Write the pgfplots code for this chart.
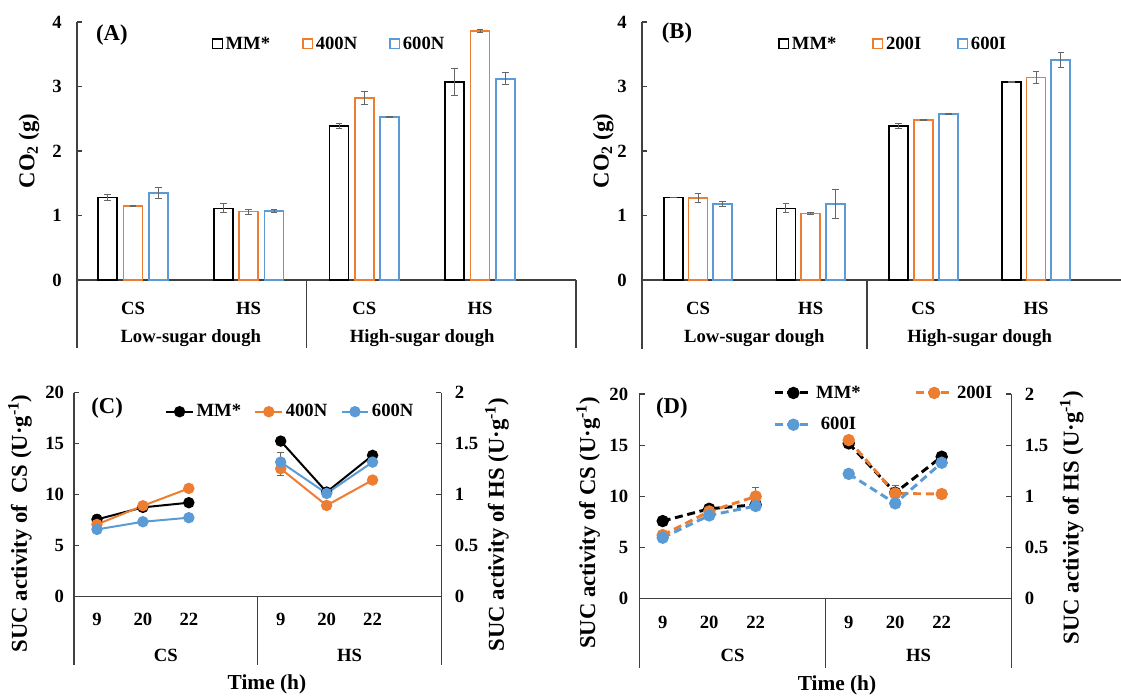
\documentclass[border=0pt]{standalone}
\usepackage{fontspec}
\setmainfont{Liberation Serif}
\usepackage{pgfplots}
\pgfplotsset{compat=1.18}

\definecolor{cOr}{HTML}{ED7D31}
\definecolor{cBl}{HTML}{5B9BD5}
\definecolor{cAx}{HTML}{404040}
\definecolor{cEr}{HTML}{666666}

\newcommand{\fs}[1]{\fontsize{#1}{#1}\selectfont\bfseries}

\pgfplotsset{
  base/.style={
    scale only axis, anchor=south west, clip=false,
    axis line style={cAx, line width=0.9pt},
    tick style={cAx, line width=0.9pt},
    tick align=inside, major tick length=4pt,
    /pgf/number format/assume math mode=true,
    tick label style={font=\fs{14}},
    label style={font=\fs{17}},
    legend style={font=\fs{14}, draw=none, fill=none, inner sep=0pt},
    axis y line*=left, axis x line*=bottom,
    x tick style={draw=none},
  },
  sqlegend/.style={legend image code/.code={\draw[##1, line width=1pt] (0pt,-3.6pt) rectangle (7.2pt,3.6pt);}},
  barax/.style={base, ybar=#1, bar width=14.25pt,
    ymin=0, ymax=4, ytick={0,1,2,3,4}, height=193.5pt,
    xtick={0,1,2,3}, xticklabels={CS,HS,CS,HS},
    xticklabel style={anchor=base, yshift=-21.75pt},
    yticklabel style={xshift=-8pt},
    ylabel={CO\textsubscript{2} (g)},
    legend columns=3, sqlegend,
  },
  bars/.style={draw=#1, line width=1.3pt, fill=none,
    error bars/.cd, y dir=both, y explicit,
    error bar style={cEr, line width=0.7pt},
    error mark options={cEr, rotate=90, mark size=2.5pt, line width=0.7pt}},
  lineax/.style={base, ymin=0, ymax=20, ytick={0,5,...,20}, xmin=-0.5, xmax=7.5,
    xtick={0,1,2,4,5,6}, xticklabels={9,20,22,9,20,22},
    yticklabel style={xshift=-4.5pt}},
  rightax/.style={scale only axis, anchor=south west, clip=false,
    axis line style={cAx, line width=0.9pt},
    tick style={cAx, line width=0.9pt},
    tick align=inside, major tick length=4pt,
    /pgf/number format/assume math mode=true,
    tick label style={font=\fs{14}},
    label style={font=\fs{17}},
    axis y line*=right, hide x axis,
    ymin=0, ymax=2, ytick={0,0.5,1,1.5,2}, xmin=-0.5, xmax=7.5,
    yticklabel style={xshift=6.5pt},
    ylabel={SUC activity of HS (U·g\textsuperscript{-1})}},
  ln/.style={#1, line width=1.5pt, mark=*, mark size=3.5pt,
    error bars/.cd, y dir=both, y explicit,
    error bar style={cEr, line width=0.7pt},
    error mark options={cEr, rotate=90, mark size=2.5pt, line width=0.7pt}},
  dln/.style={#1, line width=2.2pt, dash pattern=on 6pt off 3.5pt, mark=*, mark size=3.5pt, mark options={solid},
    error bars/.cd, y dir=both, y explicit,
    error bar style={cEr, line width=0.7pt, solid},
    error mark options={cEr, rotate=90, mark size=2.5pt, line width=0.7pt, solid}},
}

\begin{document}
\begin{tikzpicture}
\useasboundingbox (0pt,0pt) rectangle (840.75pt,522.75pt);

% ---------- (A)
\begin{axis}[barax=4.75pt, at={(57.75pt,312.75pt)}, width=374.25pt,
  xmin=-0.484, xmax=3.830,
  ylabel style={at={(rel axis cs:-0.096,0.5)}, anchor=center},
  legend style={at={(rel axis cs:0.27,0.915)}, anchor=west,
    /tikz/every even column/.append style={column sep=22pt}}]
\addplot[bars=black] coordinates {(0,1.28) +- (0,0.04) (1,1.11) +- (0,0.07) (2,2.39) +- (0,0.04) (3,3.07) +- (0,0.21)};
\addlegendentry{MM*}
\addplot[bars=cOr] coordinates {(0,1.15) +- (0,0.01) (1,1.06) +- (0,0.04) (2,2.82) +- (0,0.10) (3,3.86) +- (0,0.02)};
\addlegendentry{400N}
\addplot[bars=cBl] coordinates {(0,1.35) +- (0,0.08) (1,1.07) +- (0,0.02) (2,2.53) +- (0,0.005) (3,3.12) +- (0,0.09)};
\addlegendentry{600N}
\draw[cAx, line width=0.9pt] (axis cs:-0.484,0) -- ++(0pt,-51pt);
\draw[cAx, line width=0.9pt] (axis cs:1.5,0) -- ++(0pt,-51pt);
\draw[cAx, line width=0.9pt] (axis cs:3.83,0) -- ++(0pt,-51pt);
\node[font=\fs{14}, anchor=base] at ([yshift=-47pt]axis cs:0.5,0) {Low-sugar dough};
\node[font=\fs{14}, anchor=base] at ([yshift=-47pt]axis cs:2.5,0) {High-sugar dough};
\node[font=\fs{17}] at (rel axis cs:0.07,0.95) {(A)};
\end{axis}

% ---------- (B)
\begin{axis}[barax=4.35pt, at={(481.5pt,312.75pt)}, width=359.25pt,
  xmin=-0.497, xmax=3.754,
  ylabel style={at={(rel axis cs:-0.081,0.5)}, anchor=center},
  legend style={at={(rel axis cs:0.284,0.915)}, anchor=west,
    /tikz/every even column/.append style={column sep=25pt}}]
\addplot[bars=black] coordinates {(0,1.28) +- (0,0.005) (1,1.11) +- (0,0.07) (2,2.39) +- (0,0.04) (3,3.07) +- (0,0.005)};
\addlegendentry{MM*}
\addplot[bars=cOr] coordinates {(0,1.27) +- (0,0.065) (1,1.03) +- (0,0.01) (2,2.48) +- (0,0.005) (3,3.14) +- (0,0.095)};
\addlegendentry{200I}
\addplot[bars=cBl] coordinates {(0,1.18) +- (0,0.044) (1,1.18) +- (0,0.22) (2,2.57) +- (0,0.01) (3,3.41) +- (0,0.11)};
\addlegendentry{600I}
\draw[cAx, line width=0.9pt] (axis cs:-0.497,0) -- ++(0pt,-52pt);
\draw[cAx, line width=0.9pt] (axis cs:1.5,0) -- ++(0pt,-52pt);
\node[font=\fs{14}, anchor=base] at ([yshift=-47pt]axis cs:0.5,0) {Low-sugar dough};
\node[font=\fs{14}, anchor=base] at ([yshift=-47pt]axis cs:2.5,0) {High-sugar dough};
\node[font=\fs{17}] at (rel axis cs:0.073,0.957) {(B)};
\end{axis}

% ---------- (C)
\begin{axis}[lineax, at={(55.5pt,75.2pt)}, width=275.6pt, height=153pt,
  xticklabel style={anchor=base, yshift=-21.4pt},
  yticklabel style={xshift=0.5pt},
  ylabel={SUC activity of\ \ CS (U·g\textsuperscript{-1})},
  ylabel style={at={(rel axis cs:-0.147,0.36)}, anchor=center},
  legend columns=3,
  legend image code/.code={\draw[mark repeat=2, mark phase=2, #1] plot coordinates {(0pt,0pt) (10pt,0pt) (20pt,0pt)};},
  legend style={at={(rel axis cs:0.2476,0.907)}, anchor=west,
    /tikz/every even column/.append style={column sep=8pt}}]
\addplot[ln=black] coordinates {(0,7.58) +- (0,0.5) (1,8.76) +- (0,0.15) (2,9.22) +- (0,0.1)};
\addlegendentry{MM*}
\addplot[ln=cOr] coordinates {(0,7.09) +- (0,0.2) (1,8.92) +- (0,0.1) (2,10.62) +- (0,0.1)};
\addlegendentry{400N}
\addplot[ln=cBl] coordinates {(0,6.60) +- (0,0.15) (1,7.35) +- (0,0.4) (2,7.75) +- (0,0.1)};
\addlegendentry{600N}
\draw[cAx, line width=0.9pt] (axis cs:-0.5,0) -- ++(0pt,-51pt);
\draw[cAx, line width=0.9pt] (axis cs:3.5,0) -- ++(0pt,-51pt);
\draw[cAx, line width=0.9pt] (axis cs:7.5,0) -- ++(0pt,-51pt);
\node[font=\fs{14}, anchor=base] at ([yshift=-48.5pt]axis cs:1.5,0) {CS};
\node[font=\fs{14}, anchor=base] at ([yshift=-48.5pt]axis cs:5.5,0) {HS};
\node[font=\fs{16}] at ([yshift=-66pt]rel axis cs:0.525,0) {Time (h)};
\node[font=\fs{17}] at (rel axis cs:0.09,0.926) {(C)};
\end{axis}
\begin{axis}[rightax, at={(55.5pt,75.2pt)}, width=275.6pt, height=153pt,
  ylabel style={at={(rel axis cs:1.151,0.353)}, anchor=center}]
\addplot[ln=black] coordinates {(4,1.526) +- (0,0.02) (5,1.026) +- (0,0.01) (6,1.386) +- (0,0.01)};
\addplot[ln=cOr] coordinates {(4,1.255) +- (0,0.07) (5,0.895) +- (0,0.01) (6,1.144) +- (0,0.02)};
\addplot[ln=cBl] coordinates {(4,1.32) +- (0,0.09) (5,1.013) +- (0,0.02) (6,1.32) +- (0,0.02)};
\end{axis}

% ---------- (D)
\begin{axis}[lineax, at={(479.6pt,73.7pt)}, width=279pt, height=153.5pt,
  xticklabel style={anchor=base, yshift=-22pt},
  yticklabel style={xshift=-0.5pt},
  ylabel={SUC activity of CS (U·g\textsuperscript{-1})},
  ylabel style={at={(rel axis cs:-0.138,0.37)}, anchor=center},
  legend columns=2,
  legend image code/.code={\draw[mark repeat=2, mark phase=2, #1] plot coordinates {(0pt,0pt) (14pt,0pt) (28pt,0pt)};},
  legend style={at={(rel axis cs:0.359,1.055)}, anchor=north west, row sep=9pt,
    /tikz/every even column/.append style={column sep=38pt}}]
\addplot[dln=black] coordinates {(0,7.59) (1,8.79) (2,9.19)};
\addlegendentry{MM*}
\addplot[dln=cOr] coordinates {(0,6.22) +- (0,0.1) (1,8.53) +- (0,0.1) (2,10.0) +- (0,0.9)};
\addlegendentry{200I}
\addplot[dln=cBl] coordinates {(0,5.96) (1,8.14) (2,9.06)};
\addlegendentry{600I}
\draw[cAx, line width=0.9pt] (axis cs:-0.5,0) -- ++(0pt,-52pt);
\draw[cAx, line width=0.9pt] (axis cs:3.5,0) -- ++(0pt,-52pt);
\draw[cAx, line width=0.9pt] (axis cs:7.5,0) -- ++(0pt,-52pt);
\node[font=\fs{14}, anchor=base] at ([yshift=-47pt]axis cs:1.5,0) {CS};
\node[font=\fs{14}, anchor=base] at ([yshift=-47pt]axis cs:5.5,0) {HS};
\node[font=\fs{16}] at ([yshift=-64.6pt]rel axis cs:0.531,0) {Time (h)};
\node[font=\fs{17}] at (rel axis cs:0.087,0.93) {(D)};
\end{axis}
\begin{axis}[rightax, at={(479.6pt,73.7pt)}, width=279pt, height=153.5pt,
  ylabel style={at={(rel axis cs:1.162,0.397)}, anchor=center}]
\addplot[dln=black] coordinates {(4,1.518) (5,1.036) +- (0,0.07) (6,1.388)};
\addplot[dln=cOr] coordinates {(4,1.55) (5,1.029) (6,1.023)};
\addplot[dln=cBl] coordinates {(4,1.22) +- (0,0.03) (5,0.932) (6,1.329)};
\end{axis}
\end{tikzpicture}
\end{document}
